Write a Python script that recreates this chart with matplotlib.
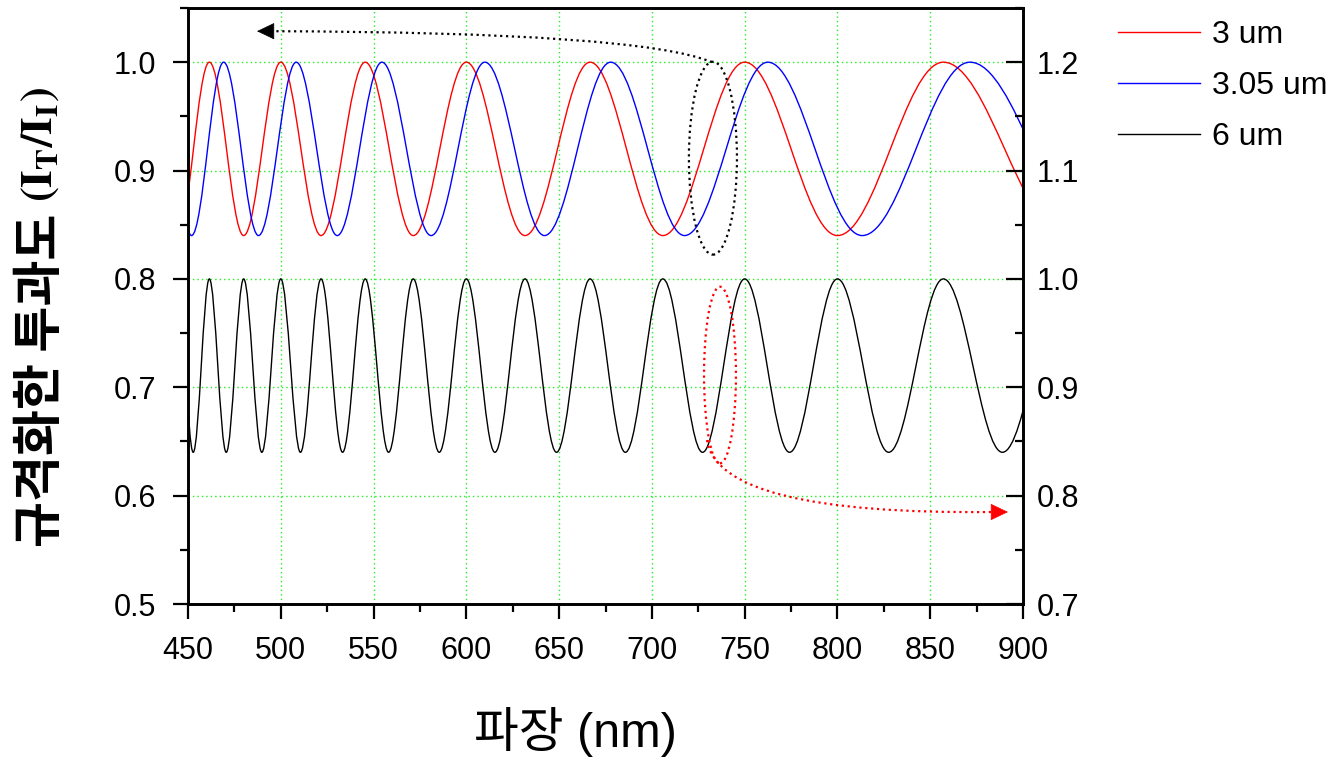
import matplotlib
matplotlib.use('Agg')
import matplotlib.pyplot as plt
from matplotlib.path import Path
from matplotlib.patches import PathPatch, Ellipse, FancyArrowPatch
from matplotlib.lines import Line2D
from matplotlib.ticker import MultipleLocator

# ---- data: wavelength (nm) of each transmission max / min ----
red_label = '3 um'
red_nm = [444.4, 461.5, 480.0, 500.0, 521.7, 545.5, 571.4, 600.0, 631.6,
          666.7, 705.9, 750.0, 800.0, 857.1, 923.1]
red_T = [0.84, 1.00, 0.84, 1.00, 0.84, 1.00, 0.84, 1.00, 0.84,
         1.00, 0.84, 1.00, 0.84, 1.00, 0.84]

blue_label = '3.05 um'
blue_nm = [435.7, 451.9, 469.2, 488.0, 508.3, 530.4, 554.5, 581.0, 610.0,
           642.1, 677.8, 717.6, 762.5, 813.3, 871.4, 938.5]
blue_T = [1.00, 0.84, 1.00, 0.84, 1.00, 0.84, 1.00, 0.84, 1.00,
          0.84, 1.00, 0.84, 1.00, 0.84, 1.00, 0.84]

black_label = '6 um'   # plotted against the right axis
black_nm = [444.4, 452.8, 461.5, 470.6, 480.0, 489.8, 500.0, 510.6, 521.7,
            533.3, 545.5, 558.1, 571.4, 585.4, 600.0, 615.4, 631.6, 648.6,
            666.7, 685.7, 705.9, 727.3, 750.0, 774.2, 800.0, 827.6, 857.1,
            888.9, 923.1]
black_T = [1.00, 0.84, 1.00, 0.84, 1.00, 0.84, 1.00, 0.84, 1.00,
           0.84, 1.00, 0.84, 1.00, 0.84, 1.00, 0.84, 1.00, 0.84,
           1.00, 0.84, 1.00, 0.84, 1.00, 0.84, 1.00, 0.84, 1.00,
           0.84, 1.00]

x_ticks = [450, 500, 550, 600, 650, 700, 750, 800, 850, 900]
left_ticks = [0.5, 0.6, 0.7, 0.8, 0.9, 1.0]
right_ticks = [0.7, 0.8, 0.9, 1.0, 1.1, 1.2]

x_title = '파장 (nm)'
y_title_kr = '규격화한 투과도'
y_title_math = r'$\mathbf{(I_T/I_I)}$'

# ---- style ----
plt.rcParams['font.family'] = ['Liberation Sans', 'Noto Sans CJK KR', 'DejaVu Sans']
plt.rcParams['mathtext.fontset'] = 'stix'

W, H = 1342, 757
fig = plt.figure(figsize=(W / 100, H / 100), dpi=100)
L, R, T, B = 188, 1023, 8, 604
ax = fig.add_axes([L / W, 1 - B / H, (R - L) / W, (B - T) / H])
ax2 = ax.twinx()


def smooth_path(xs, ys, k=0.3634):
    """Smooth line through the read extrema (horizontal tangent at each extremum)."""
    verts = [(xs[0], ys[0])]
    codes = [Path.MOVETO]
    for x0, y0, x1, y1 in zip(xs[:-1], ys[:-1], xs[1:], ys[1:]):
        dx = x1 - x0
        verts += [(x0 + k * dx, y0), (x1 - k * dx, y1), (x1, y1)]
        codes += [Path.CURVE4] * 3
    return Path(verts, codes)


lw_curve = 1.0
ax.add_patch(PathPatch(smooth_path(red_nm, red_T), facecolor='none',
                       edgecolor='#ff0000', lw=lw_curve, zorder=3))
ax.add_patch(PathPatch(smooth_path(blue_nm, blue_T), facecolor='none',
                       edgecolor='#0000ff', lw=lw_curve, zorder=3))
ax2.add_patch(PathPatch(smooth_path(black_nm, black_T), facecolor='none',
                        edgecolor='black', lw=lw_curve, zorder=3))

# grid
grid_kw = dict(color='#22ee22', linestyle=(0, (1, 2.2)), linewidth=1.0)
ax.set_xticks(x_ticks)
ax.set_yticks(left_ticks)
ax.grid(True, **grid_kw)
ax.set_axisbelow(True)

# ticks
fs_tick = 22
ax.xaxis.set_minor_locator(MultipleLocator(25))
ax.yaxis.set_minor_locator(MultipleLocator(0.05))
ax.tick_params(axis='x', which='major', direction='out', length=11, width=1.6,
               labelsize=fs_tick, pad=12, top=False)
ax.tick_params(axis='x', which='minor', direction='out', length=6, width=1.6, top=False)
ax.tick_params(axis='y', which='major', direction='out', length=11, width=1.6,
               labelsize=fs_tick, pad=12, right=False)
ax.tick_params(axis='y', which='minor', direction='out', length=6, width=1.6, right=False)
ax.set_xticklabels([str(v) for v in x_ticks])
ax.set_yticklabels([f'{v:.1f}' for v in left_ticks])

ax2.set_yticks(right_ticks)
ax2.yaxis.set_minor_locator(MultipleLocator(0.05))
ax2.tick_params(axis='y', which='major', direction='in', length=12, width=1.6,
                labelsize=fs_tick, pad=10)
ax2.tick_params(axis='y', which='minor', direction='in', length=6, width=1.6)
ax2.set_yticklabels([f'{v:.1f}' for v in right_ticks])

for a in (ax, ax2):
    for s in a.spines.values():
        s.set_linewidth(1.9)

# ---- annotations (in left-axis data units, drawn on top) ----
ax2.add_patch(Ellipse((732.9, 0.9114), width=25.9, height=0.178, fill=False,
                      edgecolor='black', linestyle=':', lw=1.6,
                      transform=ax.transData, zorder=5))
ax2.add_patch(Ellipse((736.7, 0.7113), width=17.2, height=0.163, fill=False,
                      edgecolor='#ff0000', linestyle=':', lw=1.6,
                      transform=ax.transData, zorder=5))


def dotted_arrow(path_pts, color, head_from, head_to):
    shaft = Path(path_pts, [Path.MOVETO, Path.CURVE3, Path.CURVE3])
    ax2.add_patch(PathPatch(shaft, facecolor='none', edgecolor=color,
                            linestyle=':', lw=1.6, transform=ax.transData,
                            zorder=6))
    ax2.add_patch(FancyArrowPatch(head_from, head_to,
                                  arrowstyle='-|>,head_length=1.15,head_width=0.55',
                                  mutation_scale=10, color=color, lw=0.5,
                                  shrinkA=0, shrinkB=0,
                                  transform=ax.transData, zorder=7))


dotted_arrow([(732.4, 1.000), (693.6, 1.0277), (495.0, 1.0286)], 'black',
             (495.0, 1.0286), (487.2, 1.0286))
dotted_arrow([(729.7, 0.6513), (735.6, 0.5821), (884.0, 0.5849)], '#ff0000',
             (884.0, 0.5849), (891.9, 0.5849))

ax.set_xlim(450, 900)
ax.set_ylim(0.5, 1.05)
ax2.set_ylim(0.7, 1.25)

# ---- legend ----
fs_leg = 23
handles = [Line2D([], [], color='#ff0000', lw=1.0),
           Line2D([], [], color='#0000ff', lw=1.0),
           Line2D([], [], color='black', lw=1.0)]
fig.legend(handles, [red_label, blue_label, black_label], loc='upper left',
           bbox_to_anchor=(1118 / W, 1 - 20 / H), frameon=False, fontsize=fs_leg,
           borderpad=0, borderaxespad=0, handlelength=2.57, handletextpad=0.38,
           labelspacing=0.66)

# ---- axis titles ----
fig.text(575 / W, 1 - 732 / H, x_title, ha='center', va='center', fontsize=35,
         family=['Liberation Sans', 'Noto Sans CJK KR'])
fig.text(42 / W, 1 - 380 / H, y_title_kr, ha='center', va='center', rotation=90,
         fontsize=36, family=['Noto Sans CJK KR'], weight='bold')
fig.text(40 / W, 1 - 145 / H, y_title_math, ha='center', va='center', rotation=90,
         fontsize=32)

fig.savefig('out.png', dpi=100)
